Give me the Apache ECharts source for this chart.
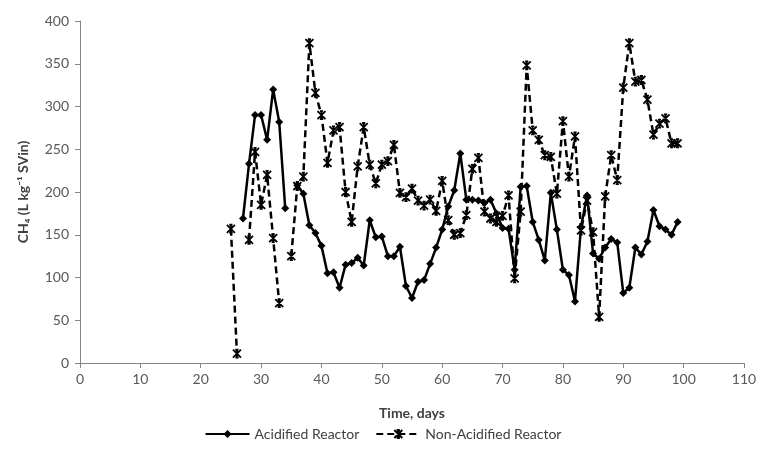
<!DOCTYPE html>
<html>
<head>
<meta charset="utf-8">
<script src="https://cdn.jsdelivr.net/npm/echarts@6/dist/echarts.min.js"></script>
<style>
  html, body { margin: 0; padding: 0; background: #fff; }
  #chart { width: 766px; height: 451px; }
</style>
</head>
<body>
<div id="chart"></div>
<script>
// days 25..99
const days = [];
for (let d = 25; d <= 99; d++) days.push(d);

// acidified reactor, L kg-1 SVin (null = no reading)
const acidified = [
  null, null, 169, 233, 290, 290, 261, 320, 282, 181,
  null, 208, 198, 161, 152, 137, 105, 106, 88, 115,
  117, 123, 114, 167, 147, 148, 125, 125, 136, 90,
  76, 95, 97, 116, 135, 156, 183, 202, 245, 191,
  191, 190, 187, 191, 175, 158, 157, 109, 206, 207,
  165, 144, 120, 199, 156, 109, 103, 72, 159, 196,
  128, 122, 135, 145, 141, 82, 88, 135, 127, 142,
  179, 160, 156, 150, 165
];

// non-acidified reactor
const nonAcidified = [
  157, 11, null, 144, 247, 185, 220, 146, 70, null,
  125, 207, 218, 374, 316, 290, 234, 272, 276, 200,
  165, 230, 276, 232, 210, 232, 236, 255, 199, 194,
  204, 190, 184, 191, 178, 213, 167, 150, 152, 173,
  227, 240, 177, 169, 165, 172, 196, 99, 177, 348,
  272, 261, 243, 241, 198, 283, 218, 265, 155, 190,
  153, 54, 195, 243, 214, 322, 374, 329, 331, 308,
  267, 280, 286, 257, 257
];

const seriesNames = ['Acidified Reactor', 'Non-Acidified Reactor'];

// excel-like star marker
const starPath = 'path://M0,0L10,10M10,0L0,10M5,0L5,10M3,0L7,0M3,10L7,10';

function pairs(vals) {
  return days.map((d, i) => [d, vals[i]]);
}

const chart = echarts.init(document.getElementById('chart'));
const font = 'Lato, "Open Sans", sans-serif';
const axisGray = '#868686';
const labelGray = '#595959';

chart.setOption({
  animation: false,
  textStyle: { fontFamily: font },
  grid: { left: 80, right: 22, top: 21, bottom: 88 },
  legend: {
    bottom: 5,
    left: 'center',
    itemWidth: 44,
    itemHeight: 10,
    itemGap: 16,
    textStyle: { fontSize: 14, color: '#404040', fontFamily: font },
    data: seriesNames
  },
  xAxis: {
    type: 'value',
    min: 0,
    max: 110,
    interval: 10,
    name: 'Time, days',
    nameLocation: 'middle',
    nameGap: 43,
    nameTextStyle: { fontSize: 14, fontWeight: 'bold', color: '#404040' },
    axisLine: { lineStyle: { color: axisGray } },
    axisTick: { length: 5, lineStyle: { color: axisGray } },
    axisLabel: { fontSize: 14, color: labelGray, margin: 9 },
    splitLine: { show: false }
  },
  yAxis: {
    type: 'value',
    min: 0,
    max: 400,
    interval: 50,
    name: 'CH₄ (L kg⁻¹ SVin)',
    nameLocation: 'middle',
    nameGap: 50,
    nameTextStyle: { fontSize: 14, fontWeight: 'bold', color: '#404040' },
    axisLine: { show: true, lineStyle: { color: axisGray } },
    axisTick: { show: true, length: 5, lineStyle: { color: axisGray } },
    axisLabel: { fontSize: 14, color: labelGray, margin: 11 },
    splitLine: { show: false }
  },
  series: [
    {
      name: seriesNames[0],
      type: 'line',
      data: pairs(acidified),
      symbol: 'diamond',
      symbolSize: 8,
      showAllSymbol: true,
      itemStyle: { color: '#000' },
      lineStyle: { color: '#000', width: 2.5 },
      z: 3
    },
    {
      name: seriesNames[1],
      type: 'line',
      data: pairs(nonAcidified),
      symbol: starPath,
      symbolSize: 8,
      showAllSymbol: true,
      itemStyle: { color: 'none', borderColor: '#000', borderWidth: 1.8 },
      lineStyle: { color: '#000', width: 2.5, type: [7, 4] },
      z: 2
    }
  ]
});
</script>
</body>
</html>
